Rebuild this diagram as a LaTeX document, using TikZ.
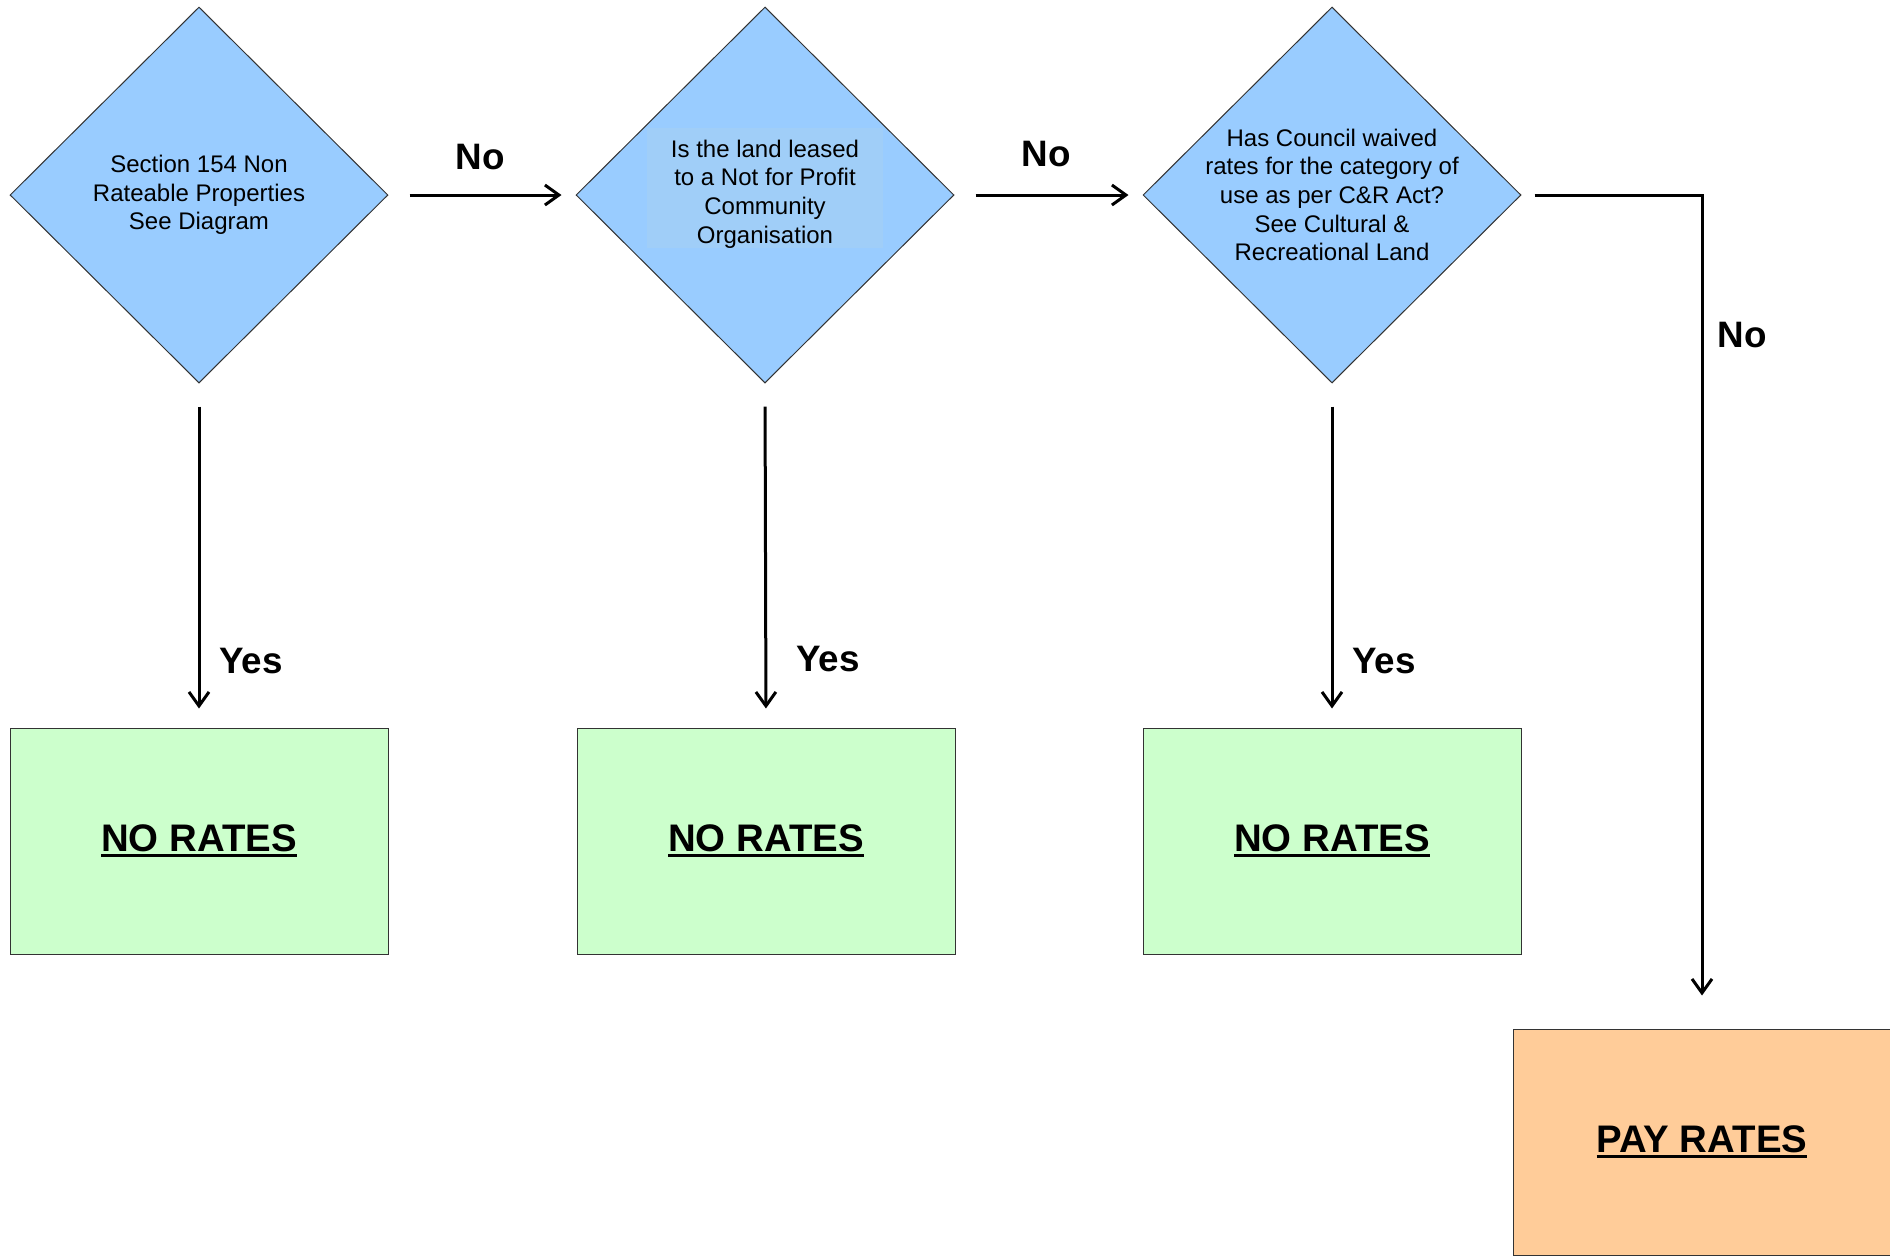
\documentclass[tikz,border=0pt]{standalone}
\usepackage{fontspec}
\setmainfont{Liberation Sans}
\usetikzlibrary{shapes.geometric,arrows.meta}
\definecolor{dblue}{HTML}{99CCFF}
\definecolor{dblueb}{HTML}{A0CEF8}
\definecolor{bgreen}{HTML}{CCFFCC}
\definecolor{borange}{HTML}{FFCC99}
\newcommand{\myul}[1]{{\setbox0\hbox{#1}\rlap{\rule[-2.8pt]{\wd0}{1.6pt}}\box0}}
\tikzset{
  dia/.style={diamond, draw=black!80, line width=0.5pt, fill=dblue, inner sep=0pt,
    minimum width=189pt, minimum height=188pt},
  dtext/.style={align=center, font=\fontsize{12pt}{14.3pt}\selectfont, inner sep=0pt},
  resbox/.style={rectangle, draw=black!80, line width=0.5pt, minimum width=189pt,
    minimum height=113pt, inner sep=0pt, font=\fontsize{19.2pt}{22pt}\selectfont\bfseries},
  lbl/.style={font=\fontsize{18.4pt}{21pt}\selectfont\bfseries, inner sep=0pt},
  conn/.style={line width=1.5pt, -{Straight Barb[length=7pt,width=10pt,line width=1.5pt]}}
}
\begin{document}
\begin{tikzpicture}[x=0.5pt,y=-0.5pt]
\useasboundingbox (0,0) rectangle (1890,1255);
% decisions
\node[dia] (d1) at (199,195) {};
\node[dtext] (t1) at (d1.center) {Section 154 Non\\Rateable Properties\\See Diagram};
\node[dia] (d2) at (765,195) {};
\fill[dblueb] (647,128) rectangle (883,248);
\node[dtext] (t2) at (765,194) {Is the land leased\\to a Not for Profit\\Community\\Organisation};
\node[dia] (d3) at (1332,195) {};
\node[dtext] (t3) at (d3.center) {Has Council waived\\rates for the category of\\use as per C\&R Act?\\See Cultural \&\\Recreational Land};
% results
\node[resbox, fill=bgreen] (b1) at (199,841) {\myul{NO RATES}};
\node[resbox, fill=bgreen] (b2) at (766,841) {\myul{NO RATES}};
\node[resbox, fill=bgreen] (b3) at (1332,841) {\myul{NO RATES}};
\node[resbox, fill=borange] (pay) at (1702,1142) {\myul{PAY RATES}};
% connectors
\draw[conn, shorten <=10.5pt, shorten >=7pt] (d1.east) -- (d2.west);
\draw[conn, shorten <=10.5pt, shorten >=7pt] (d2.east) -- (d3.west);
\coordinate (corner) at (d3.east -| pay.north);
\draw[conn, shorten <=6.5pt, shorten >=16.5pt] (d3.east) -- (corner) -- (pay.north);
\draw[conn, shorten <=11.5pt, shorten >=9.5pt] (d1.south) -- (b1.north);
\draw[conn, shorten <=11.5pt, shorten >=9.5pt] (d2.south) -- (b2.north);
\draw[conn, shorten <=11.5pt, shorten >=9.5pt] (d3.south) -- (b3.north);
% labels
\node[lbl] (no1) at (480,157) {No};
\node[lbl] (no2) at (1046,154) {No};
\node[lbl] (no3) at (1742,335) {No};
\node[lbl] (y1) at (251,661) {Yes};
\node[lbl] (y2) at (828,659) {Yes};
\node[lbl] (y3) at (1384,661) {Yes};
\end{tikzpicture}
\end{document}
